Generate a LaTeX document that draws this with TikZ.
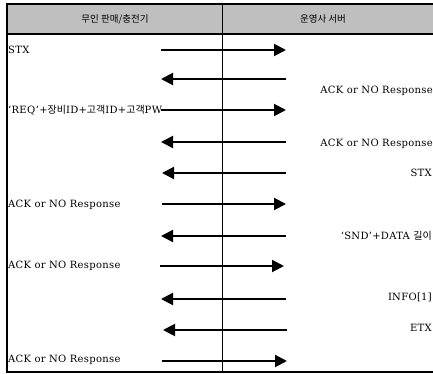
\documentclass[tikz,border=0pt]{standalone}
\usepackage{fontspec}
\setmainfont[LetterSpace=3]{DejaVu Serif}
\newfontfamily\kr{Noto Sans CJK KR}
\usetikzlibrary{arrows.meta}

\begin{document}
\begin{tikzpicture}[x=1pt, y=-1pt,
    msg/.style={line width=2pt, -{Triangle[length=12pt, width=12pt]}},
    lbl/.style={inner sep=0pt, font=\fontsize{10}{12}\selectfont},
    hdr/.style={inner sep=0pt, font=\kr\fontsize{9.5}{12}\selectfont}]
    \useasboundingbox (0,0) rectangle (433,374);

    % Таблица и заголовок
    \fill[gray!50] (7,4) rectangle (433,34);
    \draw[line width=1.2pt] (7,34) -- (433,34);
    \draw[line width=0.8pt] (222,4) -- (222,372);
    \draw[line width=2pt] (433,4) -- (7,4) -- (7,372) -- (433,372);
    \node[hdr] (dev) at (115,19) {무인 판매/충전기};
    \node[hdr] (srv) at (323,19) {운영사 서버};

    % Концы стрелок
    \coordinate (L1) at (161,50);  \coordinate (R1) at (286,50);
    \coordinate (L2) at (161,79);  \coordinate (R2) at (286,79);
    \coordinate (L3) at (161,110); \coordinate (R3) at (286,110);
    \coordinate (L4) at (161,142); \coordinate (R4) at (286,142);
    \coordinate (L5) at (162,173); \coordinate (R5) at (286,173);
    \coordinate (L6) at (162,204); \coordinate (R6) at (286,204);
    \coordinate (L7) at (161,236); \coordinate (R7) at (286,236);
    \coordinate (L8) at (160,266); \coordinate (R8) at (284,266);
    \coordinate (L9) at (161,299); \coordinate (R9) at (286,299);
    \coordinate (L10) at (163,330); \coordinate (R10) at (287,330);
    \coordinate (L11) at (162,361); \coordinate (R11) at (287,361);

    % Сообщения
    \draw[msg] (L1) -- (R1);
    \draw[msg] (R2) -- (L2);
    \draw[msg] (L3) -- (R3);
    \draw[msg] (R4) -- (L4);
    \draw[msg] (R5) -- (L5);
    \draw[msg] (L6) -- (R6);
    \draw[msg] (R7) -- (L7);
    \draw[msg] (L8) -- (R8);
    \draw[msg] (R9) -- (L9);
    \draw[msg] (R10) -- (L10);
    \draw[msg] (L11) -- (R11);

    % Подписи
    \node[lbl, anchor=west] (t1) at (8,50) {STX};
    \node[lbl, anchor=east] (t2) at (433,91) {ACK or NO Response};
    \node[lbl, anchor=west] (t3) at (8,110) {‘REQ’+{\kr 장비}ID+{\kr 고객}ID+{\kr 고객}PW};
    \node[lbl, anchor=east] (t4) at (433,144) {ACK or NO Response};
    \node[lbl, anchor=east] (t5) at (432,173) {STX};
    \node[lbl, anchor=west] (t6) at (8,205) {ACK or NO Response};
    \node[lbl, anchor=east] (t7) at (432,236) {‘SND’+DATA {\kr 길이}};
    \node[lbl, anchor=west] (t8) at (8,266) {ACK or NO Response};
    \node[lbl, anchor=east] (t9) at (432,297) {INFO[1]};
    \node[lbl, anchor=east] (t10) at (432,328) {ETX};
    \node[lbl, anchor=west] (t11) at (8,360) {ACK or NO Response};
\end{tikzpicture}
\end{document}
